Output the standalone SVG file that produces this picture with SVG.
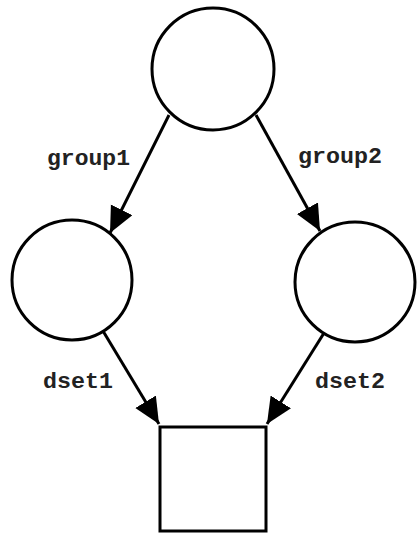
<svg xmlns="http://www.w3.org/2000/svg" width="417" height="533" viewBox="0 0 417 533">
<style>
.n{fill:#fff;stroke:#000;stroke-width:3}
.e{stroke:#000;stroke-width:3;fill:none}
.l{font-family:"Liberation Mono","Courier New",monospace;font-size:22px;font-weight:bold;fill:#222}
</style>
<defs>
<marker id="ah" markerUnits="userSpaceOnUse" markerWidth="28" markerHeight="26" refX="26" refY="12" orient="auto">
<path d="M0,0 L26,12 L0,24 Z" fill="#000"/>
</marker>
</defs>
<rect width="417" height="533" fill="#fff"/>
<g id="connectors">
<line class="e" x1="169" y1="115" x2="110" y2="233" marker-end="url(#ah)"/>
<line class="e" x1="256" y1="115" x2="320" y2="231" marker-end="url(#ah)"/>
<line class="e" x1="103" y1="331" x2="159" y2="424" marker-end="url(#ah)"/>
<line class="e" x1="324" y1="333" x2="267" y2="424" marker-end="url(#ah)"/>
<text class="l" x="47" y="165" textLength="83" lengthAdjust="spacingAndGlyphs">group1</text>
<text class="l" x="298" y="163" textLength="84" lengthAdjust="spacingAndGlyphs">group2</text>
<text class="l" x="43" y="388" textLength="70" lengthAdjust="spacingAndGlyphs">dset1</text>
<text class="l" x="315" y="388" textLength="70" lengthAdjust="spacingAndGlyphs">dset2</text>
</g>
<g id="top"><circle class="n" cx="213" cy="69" r="61"/></g>
<g id="left"><circle class="n" cx="72" cy="280" r="60"/></g>
<g id="right"><circle class="n" cx="355" cy="282" r="60"/></g>
<g id="bottom"><rect class="n" x="160" y="427" width="106" height="104"/></g>
</svg>
